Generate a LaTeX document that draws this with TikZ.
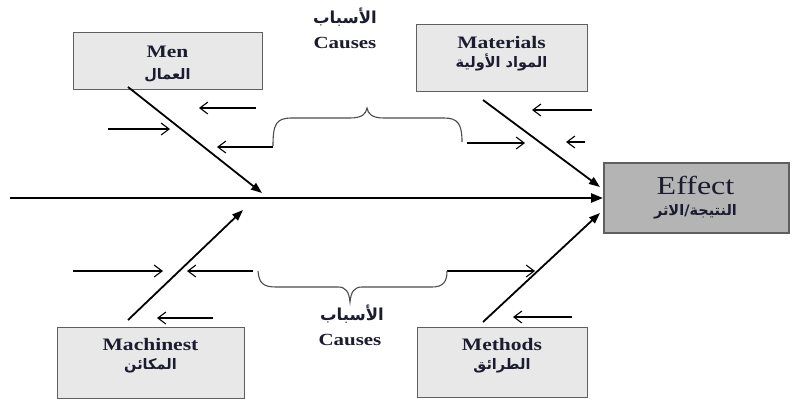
\documentclass[tikz,border=0pt]{standalone}
\usepackage{fontspec}
\usetikzlibrary{arrows.meta}
\setmainfont{Liberation Serif}
\newfontfamily\lbl[FakeStretch=1.23]{Liberation Serif}
\newfontfamily\arabicfont[Script=Arabic]{DejaVu Sans}
\TeXXeTstate=1
\definecolor{ink}{RGB}{28,28,48}
\definecolor{boxfill}{RGB}{232,232,232}
\definecolor{effectfill}{RGB}{180,180,180}
\definecolor{frame}{RGB}{95,95,95}
\begin{document}
\begin{tikzpicture}[x=1pt,y=-1pt,
  causebox/.style={draw=frame, line width=1.4pt, fill=boxfill, anchor=north west, inner sep=0pt},
  effectbox/.style={draw=frame, line width=1.6pt, fill=effectfill, anchor=north west, inner sep=0pt},
  bone/.style={line width=1.8pt, -{Triangle[length=11pt,width=8pt]}},
  spine/.style={line width=2.4pt, -{Triangle[length=12pt,width=9pt]}},
  feeder/.style={line width=1.1pt, -{Straight Barb[length=8pt,width=12pt,line width=1.1pt]}},
  bracepath/.style={line width=1.1pt, draw=black!70},
  en/.style={font=\lbl\bfseries\fontsize{17.5}{18}\selectfont, text=ink, inner sep=0pt},
  big/.style={font=\lbl\fontsize{26}{27}\selectfont, text=ink, inner sep=0pt},
  ar/.style={font=\arabicfont\bfseries\fontsize{14.5}{16}\selectfont, text=ink, inner sep=0pt},
  arhead/.style={font=\arabicfont\bfseries\fontsize{16.5}{18}\selectfont, text=ink, inner sep=0pt},
  cause/.style={font=\lbl\bfseries\fontsize{17}{18}\selectfont, text=ink, inner sep=0pt},
]
\useasboundingbox (0,0) rectangle (796,399);
\fill[white] (0,0) rectangle (796,399);

% category boxes
\node[causebox, minimum width=189pt, minimum height=57pt] (men) at (73,32) {};
\node[causebox, minimum width=171pt, minimum height=67pt] (mat) at (416,24) {};
\node[causebox, minimum width=187pt, minimum height=71pt] (mach) at (57,327) {};
\node[causebox, minimum width=170pt, minimum height=70pt] (meth) at (417,327) {};
\node[effectbox, minimum width=185pt, minimum height=70pt] (effect) at (603,162) {};

% box labels
\node[en] (menT) at (167.5,52) {Men};
\node[ar] (menA) at (167.5,75) {\beginR العمال\endR};
\node[en] (matT) at (501.5,43) {Materials};
\node[ar] (matA) at (501.5,62) {\beginR المواد الأولية\endR};
\node[en] (machT) at (150.5,345) {Machinest};
\node[ar] (machA) at (150.5,366) {\beginR المكائن\endR};
\node[en] (methT) at (502,345) {Methods};
\node[ar] (methA) at (502,366) {\beginR الطرائق\endR};
\node[big] (effT) at (695.5,185) {Effect};
\node[ar] (effA) at (695.5,212) {\beginR النتيجة/الاثر\endR};

% headline labels for the two groups of causes
\node[arhead] (topA) at (345,17) {\beginR الأسباب\endR};
\node[cause] (topC) at (345,43) {Causes};
\node[arhead] (botA) at (352,314) {\beginR الأسباب\endR};
\node[cause] (botC) at (350,340) {Causes};

% spine
\coordinate (tail) at (10,198);
\draw[spine] (tail) -- (tail -| effect.west);

% bones
\coordinate (menS) at (128,87);   \coordinate (menE) at (262,193);
\coordinate (matS) at (483,100);  \coordinate (matE) at (600,187);
\coordinate (machS) at (128,320); \coordinate (machE) at (243,210);
\coordinate (methS) at (483,322); \coordinate (methE) at (600,213);
\draw[bone] (menS) -- (menE);
\draw[bone] (matS) -- (matE);
\draw[bone] (machS) -- (machE);
\draw[bone] (methS) -- (methE);

% feeder arrows
\coordinate (f1a) at (256,108); \coordinate (f1b) at (199,108);
\coordinate (f2a) at (108,129); \coordinate (f2b) at (170,129);
\coordinate (f3a) at (273,147); \coordinate (f3b) at (217,147);
\coordinate (f4a) at (592,110); \coordinate (f4b) at (532,110);
\coordinate (f5a) at (467,143); \coordinate (f5b) at (525,143);
\coordinate (f6a) at (585,142); \coordinate (f6b) at (566,142);
\coordinate (f7a) at (73,271);  \coordinate (f7b) at (163,271);
\coordinate (f8a) at (253,271); \coordinate (f8b) at (187,271);
\coordinate (f9a) at (213,318); \coordinate (f9b) at (157,318);
\coordinate (f10a) at (447,271); \coordinate (f10b) at (535,271);
\coordinate (f11a) at (572,317); \coordinate (f11b) at (513,317);
\foreach \i in {1,...,11} \draw[feeder] (f\i a) -- (f\i b);

% braces grouping the causes
\draw[bracepath] (273,146) .. controls (273,124) and (276,118) .. (292,118) -- (350,118)
  .. controls (362,118) and (366,114) .. (367,108)
  .. controls (368,114) and (372,118) .. (384,118) -- (444,118)
  .. controls (458,118) and (462,124) .. (462,142);
\draw[bracepath] (258,271) .. controls (259,283) and (263,287) .. (276,287) -- (338,287)
  .. controls (346,287) and (349,292) .. (350,302)
  .. controls (351,292) and (354,287) .. (362,287) -- (432,287)
  .. controls (443,287) and (447,282) .. (447,271);
\end{tikzpicture}
\end{document}
